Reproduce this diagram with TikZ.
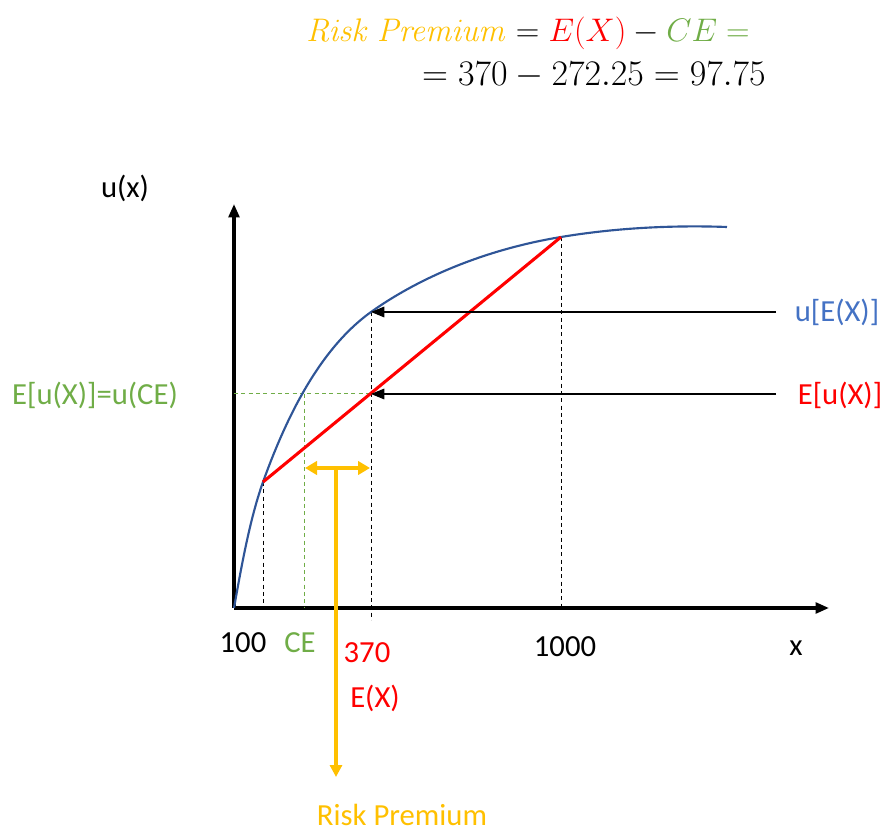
\RequirePackage{fix-cm}
\documentclass[tikz,border=0pt]{standalone}
\usepackage[no-math]{fontspec}
\setmainfont{Carlito}
\usetikzlibrary{arrows.meta,positioning}
\definecolor{rpyellow}{HTML}{FFC000}
\definecolor{exred}{HTML}{FF0000}
\definecolor{cegreen}{HTML}{70AD47}
\definecolor{ublue}{HTML}{4472C4}
\definecolor{curveblue}{HTML}{2F5597}
\tikzset{
    lbl/.style={font=\fontsize{23}{28}\selectfont, inner sep=0pt},
    eqn/.style={inner sep=0pt, anchor=east},
    axisline/.style={line width=2.4pt, -{Triangle[length=10pt,width=8pt]}},
    guide/.style={line width=0.75pt, dash pattern=on 3pt off 2.5pt},
    pointer/.style={line width=0.8pt, -{Triangle[length=10pt,width=8pt]}},
    rparrow/.style={rpyellow, line width=2.8pt, {Triangle[length=9pt,width=10pt]}-{Triangle[length=9pt,width=10pt]}}
}

\begin{document}
\begin{tikzpicture}[x=0.75pt, y=-0.75pt, node distance=8pt]
\useasboundingbox (0,0) rectangle (893,837);
\coordinate (O) at (234,608);
\coordinate (ytip) at (234,204);
\coordinate (xtip) at (829,608);
\coordinate (low) at (263,482);
\coordinate (ueq) at (371,312);
\coordinate (eu) at (371,394);
\coordinate (high) at (561,237);
\coordinate (top) at (727,227);
\coordinate (ce) at (304,394);
\coordinate (ueqstart) at (776,312);
\coordinate (eustart) at (776,394);
\coordinate (rpl) at (305,468);
\coordinate (rpr) at (370,468);
\coordinate (rpm) at (336,468);
\coordinate (rpend) at (336,777);
\draw[axisline] (O) -- (ytip);
\draw[axisline] (O) -- (xtip);
\draw[guide] (low) -- (low |- O);
\draw[guide] (ueq) -- ([yshift=-9pt]ueq |- O);
\draw[guide] (high) -- (high |- O);
\draw[guide, cegreen] (O |- ce) -- (eu);
\draw[guide, cegreen] (ce) -- (ce |- O);
\draw[curveblue, line width=1.6pt] (O) .. controls (241,569) and (249.5,520) .. (low)
    .. controls (285,421) and (318,350) .. (ueq)
    .. controls (426,273) and (494,248) .. (high)
    .. controls (615,228) and (672,225) .. (top);
\draw[exred, line width=2.3pt] (low) -- (high);
\draw[pointer] (ueqstart) -- (ueq);
\draw[pointer] (eustart) -- (eu);
\draw[rparrow] (rpl) -- (rpr);
\draw[rpyellow, line width=2.8pt, -{Triangle[length=9pt,width=9pt]}] (rpm) -- (rpend);
\node[lbl, ublue] (lueq) at (837,312) {u[E(X)]};
\node[lbl, exred] (leu) at (840,395) {E[u(X)]};
\node[lbl] (lux) at (125,188) {u(x)};
\node[lbl] (lx) at (796,648) {x};
\node[lbl, cegreen] (lcel) at (95,395) {E[u(X)]=u(CE)};
\node[lbl] (l100) at (243,643) {100};
\node[lbl, cegreen] (lce) at (300,643) {CE};
\node[lbl, exred] (l370) at (367,653) {370};
\node[lbl, exred, below=16pt of l370.south, anchor=north, xshift=6pt] (lex) {E(X)};
\node[lbl] (l1000) at (565,647) {1000};
\node[lbl, rpyellow] (lrp) at (402,815) {Risk Premium};
\node[eqn, font=\fontsize{24.5}{29}\selectfont] (eq1) at (750,33) {$\color{rpyellow}\mathit{Risk\ Premium}\color{black}=\color{exred}E(X)\color{black}-\color{cegreen}CE=$};
\node[eqn, font=\fontsize{27}{32}\selectfont] (eq2) at (766,75) {${}=370-272.25=97.75$};
\end{tikzpicture}
\end{document}
